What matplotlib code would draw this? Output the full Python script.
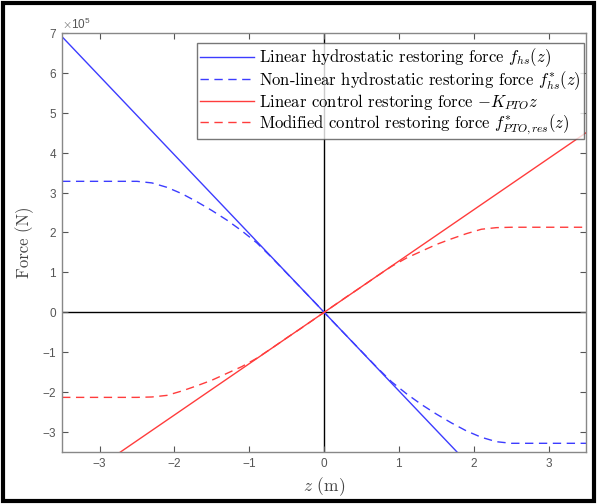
import matplotlib
matplotlib.use("Agg")
import matplotlib.pyplot as plt
from matplotlib.ticker import ScalarFormatter
from matplotlib.patches import Rectangle

plt.rcParams['mathtext.fontset'] = 'cm'
plt.rcParams['axes.formatter.use_mathtext'] = True
plt.rcParams['font.family'] = ['Liberation Sans', 'DejaVu Sans']

# Data (force in N)
z_lin = [-3.5, 3.5]
f_hs_lin = [6.90e5, -6.90e5]
f_pto_lin = [-4.50e5, 4.50e5]

z_nl = [-3.5, -2.5, -2.3, -2.1, -1.9, -1.7, -1.5, -1.3, -1.1, -0.9, -0.7, -0.5, -0.3, -0.1, 0.0,
        0.1, 0.3, 0.5, 0.7, 0.9, 1.1, 1.3, 1.5, 1.7, 1.9, 2.1, 2.3, 2.5, 3.5]
f_hs_nl = [3.28e5, 3.28e5, 3.24e5, 3.13e5, 2.97e5, 2.77e5, 2.55e5, 2.31e5, 2.04e5, 1.74e5,
           1.37e5, 0.98e5, 0.59e5, 0.20e5, 0.0,
           -0.20e5, -0.59e5, -0.98e5, -1.37e5, -1.74e5, -2.04e5, -2.31e5, -2.55e5, -2.77e5,
           -2.97e5, -3.13e5, -3.24e5, -3.28e5, -3.28e5]
f_pto_nl = [-2.13e5, -2.13e5, -2.12e5, -2.08e5, -1.97e5, -1.84e5, -1.70e5, -1.53e5, -1.36e5, -1.15e5,
            -0.90e5, -0.64e5, -0.39e5, -0.13e5, 0.0,
            0.13e5, 0.39e5, 0.64e5, 0.90e5, 1.15e5, 1.36e5, 1.53e5, 1.70e5, 1.84e5,
            1.97e5, 2.08e5, 2.12e5, 2.13e5, 2.13e5]

labels = [r'Linear hydrostatic restoring force $f_{hs}(z)$',
          r'Non-linear hydrostatic restoring force $f^{*}_{hs}(z)$',
          r'Linear control restoring force $-K_{PTO}z$',
          r'Modified control restoring force $f^{*}_{PTO,res}(z)$']

blue = '#3c3cff'
red = '#ff3c3c'

fig = plt.figure(figsize=(5.97, 5.04), dpi=100)
ax = fig.add_axes([0.104, 0.103, 0.878, 0.832])

ax.axhline(0, color='black', lw=1.0, zorder=1)
ax.axvline(0, color='black', lw=1.0, zorder=1)

ax.plot(z_lin, f_hs_lin, '-', color=blue, lw=1.0, label=labels[0])
ax.plot(z_nl, f_hs_nl, '--', color=blue, lw=1.0, dashes=(6, 4), label=labels[1])
ax.plot(z_lin, f_pto_lin, '-', color=red, lw=1.0, label=labels[2])
ax.plot(z_nl, f_pto_nl, '--', color=red, lw=1.0, dashes=(6, 4), label=labels[3])

ax.set_xlim(-3.5, 3.5)
ax.set_ylim(-3.5e5, 7e5)
ax.set_xticks([-3, -2, -1, 0, 1, 2, 3])
ax.set_yticks([i * 1e5 for i in range(-3, 8)])

fmt = ScalarFormatter(useMathText=True)
fmt.set_powerlimits((0, 0))
ax.yaxis.set_major_formatter(fmt)
ax.yaxis.get_offset_text().set_fontsize(8.5)
ax.yaxis.get_offset_text().set_color('#555555')

ax.tick_params(direction='in', length=4, width=0.8, top=True, right=True,
               labelsize=8.5, colors='#555555')
for s in ax.spines.values():
    s.set_color('#888888')
    s.set_linewidth(1.0)

ax.set_xlabel(r'$z$ (m)', fontsize=12.5, color='#444444', labelpad=4, family='cmr10')
ax.set_ylabel('Force (N)', fontsize=12, color='#444444', labelpad=6, family='cmr10')

leg = ax.legend(loc='upper right', bbox_to_anchor=(0.995, 0.975), frameon=True, fancybox=False,
                edgecolor='#555555', borderpad=0.2, labelspacing=0.0,
                handlelength=3.2, handletextpad=0.3, borderaxespad=0.0,
                prop={'family': 'cmr10', 'size': 12})
leg.get_frame().set_linewidth(1.0)

fig.patches.append(Rectangle((0.005, 0.005), 0.99, 0.99, transform=fig.transFigure,
                             fill=False, edgecolor='black', lw=3))

fig.savefig('out.png', dpi=100)
